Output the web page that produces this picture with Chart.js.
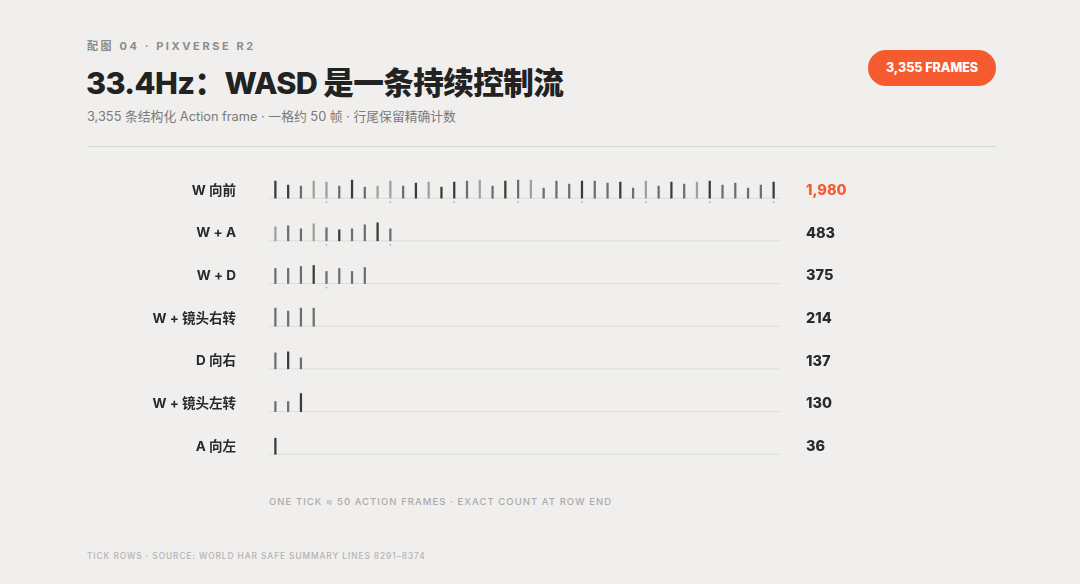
<!DOCTYPE html>
<html>
<head>
<meta charset="utf-8">
<script src="https://cdn.jsdelivr.net/npm/chart.js@4.4.1/dist/chart.umd.min.js"></script>
<style>
    html, body { margin: 0; padding: 0; }
    body {
        width: 1080px; height: 584px; position: relative; overflow: hidden;
        background: #f0efed;
        font-family: Inter, "Noto Sans CJK SC", sans-serif;
    }
    .kicker {
        position: absolute; left: 87px; top: 37px;
        font-size: 11px; font-weight: 700; letter-spacing: 2.6px; color: #8c8c8c;
    }
    .title {
        position: absolute; left: 86px; top: 59px;
        font-size: 30.6px; font-weight: 800; color: #222; letter-spacing: -0.6px;
    }
    .sub {
        position: absolute; left: 87px; top: 106px;
        font-size: 12.8px; color: #7a7a7a;
    }
    .rule {
        position: absolute; left: 87px; top: 146px; width: 909px; height: 1px; background: #d6d6d3;
    }
    .badge {
        position: absolute; left: 868px; top: 50px; width: 128px; height: 36px;
        border-radius: 18px; background: #f65a2f; color: #fff;
        font-size: 12.5px; font-weight: 800; line-height: 36px; text-align: center;
    }
    .note {
        position: absolute; left: 269px; top: 496px;
        font-size: 9.5px; letter-spacing: 1.05px; color: #ababab; font-weight: 500;
    }
    .source {
        position: absolute; left: 87px; top: 551px;
        font-size: 8.3px; letter-spacing: 0.95px; color: #b3b3b3; font-weight: 500;
    }
    #chart-wrap { position: absolute; left: 0; top: 145.5px; width: 1080px; height: 329px; }
</style>
</head>
<body>
<div class="kicker">配图 04 · PIXVERSE R2</div>
<div class="title">33.4Hz：WASD 是一条持续控制流</div>
<div class="sub">3,355 条结构化 Action frame · 一格约 50 帧 · 行尾保留精确计数</div>
<div class="rule"></div>
<div class="badge">3,355 FRAMES</div>
<div id="chart-wrap"><canvas id="chart"></canvas></div>
<div class="note">ONE TICK ≈ 50 ACTION FRAMES · EXACT COUNT AT ROW END</div>
<div class="source">TICK ROWS · SOURCE: WORLD HAR SAFE SUMMARY LINES 8291–8374</div>

<script>
"use strict";

// rows, top to bottom
let categories = ['W 向前', 'W + A', 'W + D', 'W + 镜头右转', 'D 向右', 'W + 镜头左转', 'A 向左'];
let counts = [1980, 483, 375, 214, 137, 130, 36];
let framesPerTick = 50;

// tick heights (px), one per tick
let tickHeights = [
    [17, 13, 12, 17, 16, 12, 18, 11, 12, 17, 12, 15, 16, 11, 16, 17, 18, 12, 17, 18,
     18, 10, 17, 14, 17, 17, 15, 16, 10, 17, 12, 16, 14, 16, 17, 13, 15, 10, 13, 16],
    [14, 15, 12, 17, 13, 11, 12, 16, 18, 12],
    [15, 15, 17, 18, 12, 15, 12, 16],
    [18, 15, 18, 18],
    [16, 17, 11],
    [10, 10, 18],
    [16]
];
// 0 dark, 1 mid, 2 light
let tickShades = [
    [0, 0, 1, 2, 2, 1, 0, 1, 2, 2, 1, 0, 2, 0, 0, 1, 2, 1, 0, 1,
     2, 1, 1, 1, 0, 1, 1, 0, 1, 2, 1, 0, 1, 2, 0, 1, 1, 1, 1, 0],
    [2, 1, 1, 2, 1, 0, 1, 1, 0, 1],
    [1, 1, 1, 0, 1, 1, 1, 1],
    [1, 1, 1, 1],
    [1, 0, 1],
    [1, 1, 0],
    [0]
];

let xMax = 2000;
let rowPx = 42.55;
let shadeColors = ['#3b3b3b', '#6e6e6e', '#a0a0a0'];

function main() {
    let bars = [];
    let barColors = [];
    let dots = [];
    let baselines = [];

    for (let r = 0; r < categories.length; r++) {
        let n = Math.round(counts[r] / framesPerTick);
        for (let i = 0; i < n; i++) {
            let x = i * framesPerTick + framesPerTick / 2;
            bars.push({ x: x, y: [-r, -r + tickHeights[r][i] / rowPx] });
            barColors.push(shadeColors[tickShades[r][i]]);
            if ((i + 1) % 5 === 0) {
                dots.push({ x: x, y: -r - 4 / rowPx });
            }
        }
        baselines.push({
            type: 'line',
            data: [{ x: 0, y: -r }, { x: xMax, y: -r }],
            borderColor: '#dcdcda',
            borderWidth: 1,
            pointRadius: 0,
            order: 10
        });
    }

    let labelOffset = 7.5 / rowPx;
    let rowTicks = function (axis) {
        axis.ticks = categories.map(function (c, r) { return { value: -r + labelOffset }; });
    };
    // fixed widths, and no extra top/bottom padding from the tick labels
    let fitAxis = function (w) {
        return function (axis) {
            axis.width = w;
            axis.paddingTop = 0;
            axis.paddingBottom = 0;
        };
    };

    new Chart(document.getElementById('chart'), {
        type: 'bar',
        data: {
            datasets: [{
                data: bars,
                backgroundColor: barColors,
                barThickness: 1.6,
                order: 1
            }, {
                type: 'scatter',
                data: dots,
                pointRadius: 0.9,
                pointBackgroundColor: '#b0b0b0',
                pointBorderWidth: 0,
                order: 2
            }].concat(baselines)
        },
        options: {
            responsive: true,
            maintainAspectRatio: false,
            animation: false,
            layout: { padding: 0 },
            plugins: { legend: { display: false }, tooltip: { enabled: false } },
            scales: {
                x: {
                    type: 'linear', min: 0, max: xMax, offset: false, display: false
                },
                y: {
                    type: 'linear', position: 'left',
                    min: -6 - 16.7 / rowPx, max: 48 / rowPx,
                    grid: { display: false, drawTicks: false }, border: { display: false },
                    afterBuildTicks: rowTicks,
                    afterFit: fitAxis(269),
                    ticks: {
                        padding: 33,
                        color: '#2a2a2a',
                        font: { family: 'Inter, "Noto Sans CJK SC", sans-serif', size: 13.5, weight: 700 },
                        callback: function (value, index) { return categories[index]; }
                    }
                },
                y2: {
                    type: 'linear', position: 'right',
                    min: -6 - 16.7 / rowPx, max: 48 / rowPx,
                    grid: { display: false, drawTicks: false }, border: { display: false },
                    afterBuildTicks: rowTicks,
                    afterFit: fitAxis(300),
                    ticks: {
                        padding: 26,
                        color: function (ctx) { return ctx.index === 0 ? '#f65a2f' : '#2a2a2a'; },
                        font: { family: 'Inter, sans-serif', size: 14.5, weight: 800 },
                        callback: function (value, index) { return counts[index].toLocaleString('en-US'); }
                    }
                }
            }
        }
    });
}

document.addEventListener('DOMContentLoaded', main);
</script>
</body>
</html>
